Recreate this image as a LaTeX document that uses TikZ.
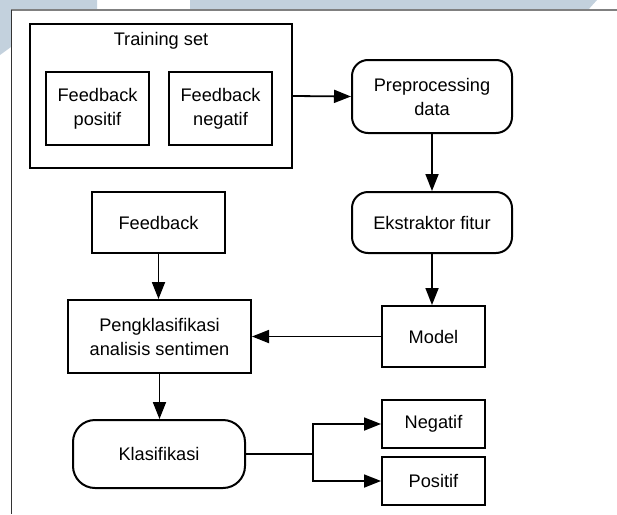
\documentclass[tikz,border=0pt]{standalone}
\usepackage{fontspec}
\setmainfont{Liberation Sans}
\usetikzlibrary{arrows.meta}
\definecolor{wmblue}{HTML}{C3D1DD}
\begin{document}
\begin{tikzpicture}[x=1pt, y=-1pt, >={Triangle[length=17pt,width=13pt]},
		box/.style={draw, line width=2pt, align=center, inner sep=0pt,
			font=\fontsize{18.2}{24}\selectfont, minimum width=#1},
		roundbox/.style={box=#1, rounded corners=16pt},
		flow/.style={->, line width=1.8pt}]
				\useasboundingbox (0,0) rectangle (617,514);
				\fill[wmblue] (0,0) -- (97,0) -- (97,10) -- (11,10) -- (11,47) -- (0,55) -- cycle;
				\fill[wmblue] (190,0) -- (597,0) -- (588,10) -- (190,10) -- cycle;
				\draw[gray, line width=1.2pt] (11,10) -- (617,10);
				\draw[black!80, line width=0.8pt] (11,10) -- (11,514);
				\node[box=262pt, minimum height=144pt] (train) at (161,96) {};
				\node[font=\fontsize{18.2}{24}\selectfont] (traintitle) at (161,41) {Training set};
				\node[box=103pt, minimum height=73pt] (fpos) at (97.5,108.5) {Feedback\\positif};
				\node[box=103pt, minimum height=73pt] (fneg) at (220.5,108.5) {Feedback\\negatif};
				\node[roundbox=160pt, minimum height=73pt] (prep) at (432,96.5) {Preprocessing\\data};
				\node[roundbox=160pt, minimum height=61pt] (ekstr) at (432,222.5) {Ekstraktor fitur};
				\node[box=133pt, minimum height=61pt] (fb) at (158.5,222.5) {Feedback};
				\node[box=183pt, minimum height=73pt] (peng) at (159.5,336.5) {Pengklasifikasi\\analisis sentimen};
				\node[box=103pt, minimum height=61pt] (model) at (433.5,336.5) {Model};
				\node[roundbox=172pt, minimum height=68pt, rounded corners=22pt] (klas) at (159,454) {Klasifikasi};
				\node[box=103pt, minimum height=48pt] (neg) at (433.5,424) {Negatif};
				\node[box=103pt, minimum height=48pt] (pos) at (433.5,481) {Positif};
				\coordinate (split) at (313,454);
				\draw[flow] (train.east) -- (prep.west);
				\draw[flow] (prep.south) -- (ekstr.north);
				\draw[flow] (ekstr.south) -- (ekstr.south |- model.north);
				\draw[flow] (fb.south) -- (fb.south |- peng.north);
				\draw[flow] (model.west) -- (peng.east);
				\draw[flow] (peng.south) -- (peng.south |- klas.north);
				\draw[line width=1.8pt] (klas.east) -- (split);
				\draw[flow] (split) |- (neg.west);
				\draw[flow] (split) |- (pos.west);
			\end{tikzpicture}
\end{document}
